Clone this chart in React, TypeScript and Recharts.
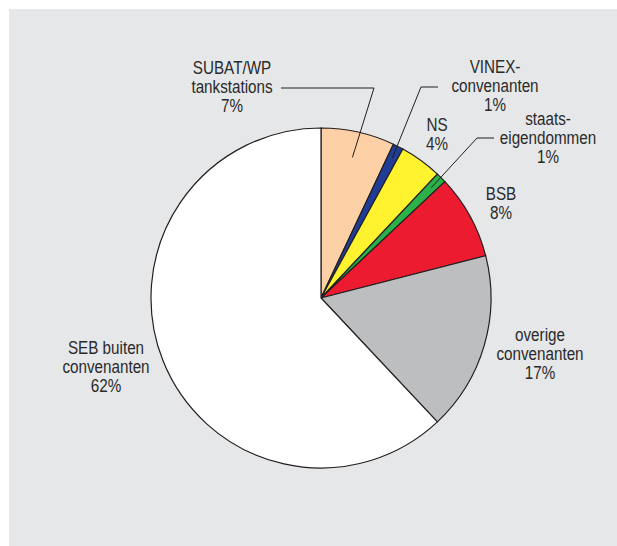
import { PieChart, Pie, Cell } from 'recharts'

// slice order runs clockwise from 12 o'clock
const names = [
  'SUBAT/WP tankstations',
  'VINEX-convenanten',
  'NS',
  'staats-eigendommen',
  'BSB',
  'overige convenanten',
  'SEB buiten convenanten',
]
const labelLines = [
  ['SUBAT/WP', 'tankstations', '7%'],
  ['VINEX-', 'convenanten', '1%'],
  ['NS', '4%'],
  ['staats-', 'eigendommen', '1%'],
  ['BSB', '8%'],
  ['overige', 'convenanten', '17%'],
  ['SEB buiten', 'convenanten', '62%'],
]
const shares = [7, 1, 4, 1, 8, 17, 62]

const COLORS = [
  '#fdd1a5', // peach
  '#1f3d96', // dark blue
  '#fff22e', // yellow
  '#2bb04a', // green
  '#ed1b2f', // red
  '#bcbec0', // grey
  '#ffffff', // white
]

const INK = '#231f20'
const FONT = "'Liberation Sans', Arial, sans-serif"

// label placement relative to pie centre (text block middle), plus optional leader
const LABEL_LAYOUT: { dx: number; dy: number; leader?: { r: number; elbow: [number, number]; end: [number, number] } }[] = [
  { dx: -89, dy: -211, leader: { r: 144, elbow: [53, -210], end: [-40, -210] } },
  { dx: 174, dy: -212, leader: { r: 157, elbow: [100, -211], end: [117, -211] } },
  { dx: 116, dy: -164 },
  { dx: 227, dy: -160, leader: { r: 156, elbow: [156, -160], end: [173, -160] } },
  { dx: 180, dy: -95 },
  { dx: 219, dy: 56 },
  { dx: -215, dy: 69 },
]

const data = names.map((name, i) => ({ name, value: shares[i], lines: labelLines[i] }))

const LINE_H = 19

const renderLabel = (props: any) => {
  const { cx, cy, midAngle, index } = props
  const layout = LABEL_LAYOUT[index]
  const lines: string[] = data[index].lines
  const x = cx + layout.dx
  const y0 = cy + layout.dy - ((lines.length - 1) * LINE_H) / 2
  let leader = null
  if (layout.leader) {
    const rad = (midAngle * Math.PI) / 180
    const px = cx + layout.leader.r * Math.cos(rad)
    const py = cy - layout.leader.r * Math.sin(rad)
    const pts = [
      [px, py],
      [cx + layout.leader.elbow[0], cy + layout.leader.elbow[1]],
      [cx + layout.leader.end[0], cy + layout.leader.end[1]],
    ]
      .map((p) => p.join(','))
      .join(' ')
    leader = <polyline points={pts} fill="none" stroke={INK} strokeWidth={1} />
  }
  return (
    <g key={`label-${index}`}>
      {leader}
      {lines.map((t, j) => (
        // the original uses a condensed face, so squeeze the text horizontally
        <text
          key={j}
          x={0}
          y={0}
          transform={`translate(${x},${y0 + j * LINE_H}) scale(0.87,1)`}
          textAnchor="middle"
          dominantBaseline="central"
          fill="#2a2a2a"
          fontFamily={FONT}
          fontSize={17.5}
        >
          {t}
        </text>
      ))}
    </g>
  )
}

export default function App() {
  return (
    <div
      style={{
        position: 'absolute',
        left: 9,
        top: 9,
        width: 608,
        height: 537,
        background: '#e6e7e8',
      }}
    >
      <PieChart width={608} height={537} margin={{ top: 0, right: 0, bottom: 0, left: 0 }}>
        <Pie
          data={data}
          dataKey="value"
          nameKey="name"
          cx={312}
          cy={289}
          outerRadius={170}
          startAngle={90}
          endAngle={-270}
          stroke={INK}
          strokeWidth={1.2}
          label={renderLabel}
          labelLine={false}
          isAnimationActive={false}
        >
          {data.map((entry, index) => (
            <Cell key={`cell-${index}`} fill={COLORS[index % COLORS.length]} />
          ))}
        </Pie>
      </PieChart>
    </div>
  )
}
